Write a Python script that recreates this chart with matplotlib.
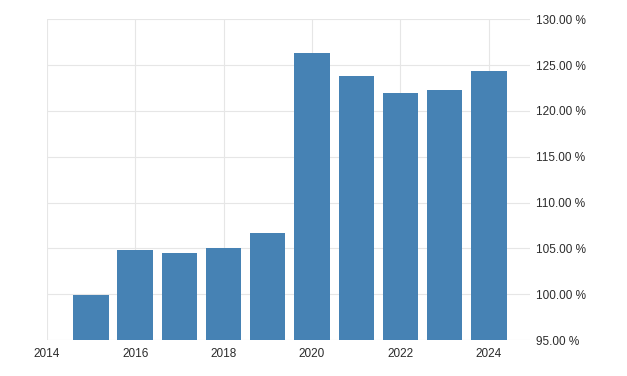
import matplotlib
matplotlib.use("Agg")
import matplotlib.pyplot as plt
from matplotlib.ticker import FuncFormatter

# data
years = [2015, 2016, 2017, 2018, 2019, 2020, 2021, 2022, 2023, 2024]
values = [99.9, 104.85, 104.45, 105.03, 106.67, 126.34, 123.8, 121.98, 122.27, 124.35]
xticks = [2014, 2016, 2018, 2020, 2022, 2024]
yticks = [95, 100, 105, 110, 115, 120, 125, 130]

plt.rcParams['font.family'] = ['Liberation Sans', 'DejaVu Sans']

fig = plt.figure(figsize=(6.27, 3.76), dpi=100)
ax = fig.add_axes([0.0745, 0.0957, 0.7708, 0.853])

ax.bar(years, values, width=0.8, color='#4682b4', edgecolor='none', zorder=3)

ax.set_xlim(2014, 2024.93)
ax.set_ylim(95, 130)
ax.set_xticks(xticks)
ax.set_yticks(yticks)
ax.yaxis.tick_right()
ax.yaxis.set_major_formatter(FuncFormatter(lambda v, p: f"{v:.2f} %"))

ax.grid(True, color='#e6e6e6', linewidth=0.8, zorder=0)
for s in ax.spines.values():
    s.set_visible(False)

ax.tick_params(axis='both', length=0, labelsize=8.5, colors='#2b2b2b')
ax.tick_params(axis='y', pad=4)
ax.tick_params(axis='x', pad=6)

fig.savefig('out.png', dpi=100)
